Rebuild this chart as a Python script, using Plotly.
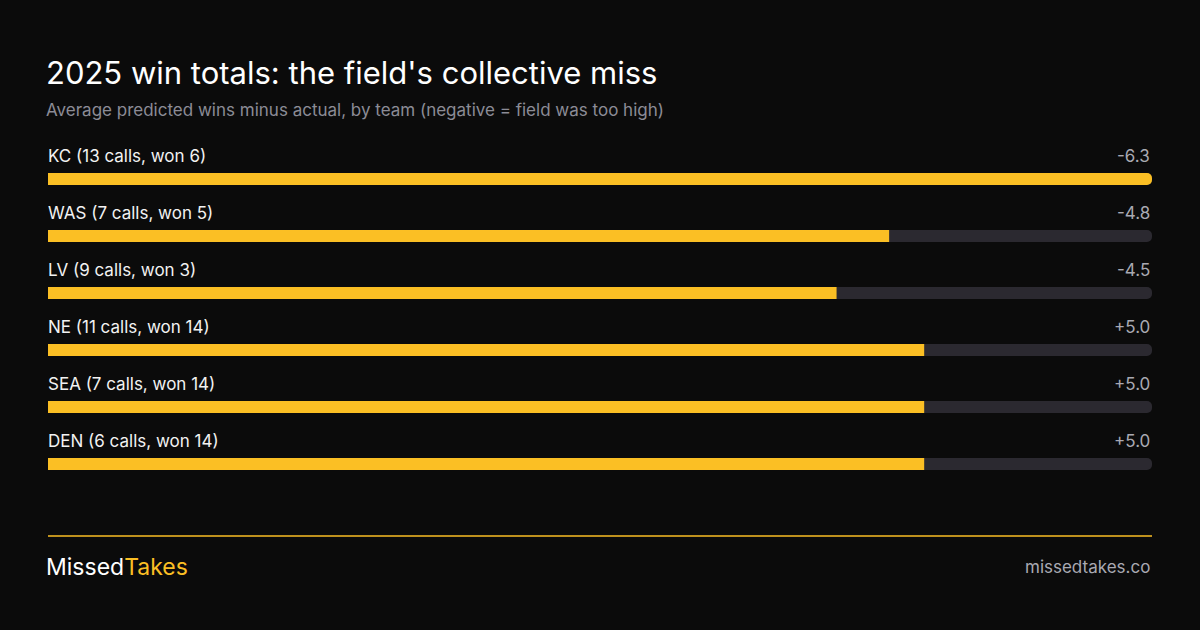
import plotly.graph_objects as go

teams = ["KC (13 calls, won 6)", "WAS (7 calls, won 5)", "LV (9 calls, won 3)",
         "NE (11 calls, won 14)", "SEA (7 calls, won 14)", "DEN (6 calls, won 14)"]
misses = [-6.3, -4.8, -4.5, 5.0, 5.0, 5.0]
value_labels = ["-6.3", "-4.8", "-4.5", "+5.0", "+5.0", "+5.0"]

mags = [abs(v) for v in misses]
mx = max(mags)
ys = list(range(len(teams)))

W, H = 1200, 630
fig = go.Figure()
fig.add_bar(y=ys, x=[mx]*len(ys), orientation="h", marker_color="#2b2930",
            marker_line_width=0, width=0.21, hoverinfo="skip")
fig.add_bar(y=ys, x=mags, orientation="h", marker_color="#fbbf24",
            marker_line_width=0, width=0.21, hoverinfo="skip")

ann = []
for i, (t, v) in enumerate(zip(teams, value_labels)):
    ann.append(dict(x=0, y=i, xref="x", yref="y", text=t, showarrow=False,
                    xanchor="left", yanchor="middle", yshift=23, xshift=-2,
                    font=dict(size=17, color="#f2f2f2")))
    ann.append(dict(x=mx, y=i, xref="x", yref="y", text=v, showarrow=False,
                    xanchor="right", yanchor="middle", yshift=23,
                    font=dict(size=17, color="#a9a9b2")))

ann += [
    dict(x=0, y=1-72/H, xref="paper", yref="paper", text="2025 win totals: the field's collective miss",
         showarrow=False, xanchor="left", yanchor="middle", xshift=-4, font=dict(size=31, color="#ffffff")),
    dict(x=0, y=1-110/H, xref="paper", yref="paper",
         text="Average predicted wins minus actual, by team (negative = field was too high)",
         showarrow=False, xanchor="left", yanchor="middle", xshift=-4, font=dict(size=17, color="#8c8c96")),
    dict(x=0, y=1-567/H, xref="paper", yref="paper",
         text="Missed<span style='color:#fbbf24'>Takes</span>",
         showarrow=False, xanchor="left", yanchor="middle", xshift=-4, font=dict(size=23, color="#ffffff")),
    dict(x=1, y=1-567/H, xref="paper", yref="paper", text="missedtakes.co",
         showarrow=False, xanchor="right", yanchor="middle", xshift=0, font=dict(size=17, color="#a9a9b2")),
]

fig.update_layout(
    width=W, height=H, barmode="overlay", barcornerradius=6,
    paper_bgcolor="#0b0b0b", plot_bgcolor="#0b0b0b",
    margin=dict(l=48, r=48, t=0, b=0), showlegend=False,
    font=dict(family="Inter, Roboto, sans-serif"),
    xaxis=dict(range=[0, mx], visible=False, fixedrange=True),
    yaxis=dict(range=[len(ys)-0.5, -0.5], visible=False,
               domain=[1-492.5/H, 1-150.5/H], fixedrange=True),
    annotations=ann,
    shapes=[dict(type="line", xref="paper", yref="paper", x0=0, x1=1,
                 y0=1-536/H, y1=1-536/H, line=dict(color="#fbbf24", width=1.5))],
)
fig.write_html("out.html", config={"displayModeBar": False})
with open("out.html", encoding="utf-8") as f:
    html = f.read()
html = html.replace("<head>", "<head><style>html,body{margin:0;padding:0;background:#0b0b0b;overflow:hidden}</style>", 1)
with open("out.html", "w", encoding="utf-8") as f:
    f.write(html)
